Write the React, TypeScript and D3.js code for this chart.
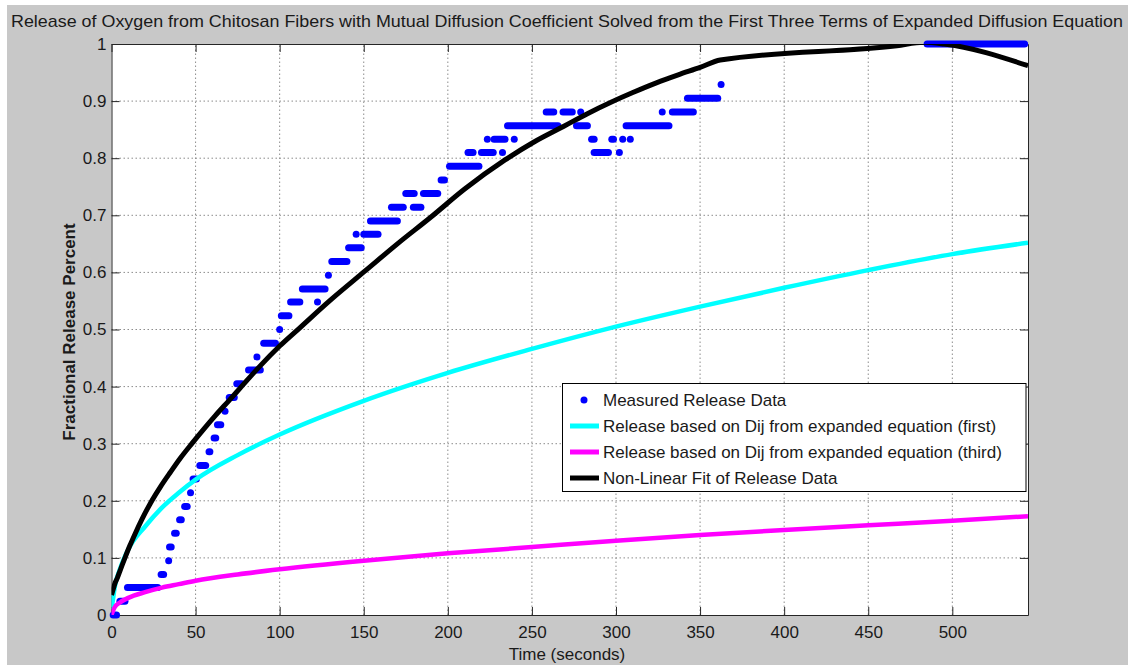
import React, { useEffect, useRef } from "react";
import * as d3 from "d3";

const WIDTH = 1128;
const HEIGHT = 665;

const chartTitle =
  "Release of Oxygen from Chitosan Fibers with Mutual Diffusion Coefficient Solved from the First Three Terms of Expanded Diffusion Equation";
const xLabel = "Time (seconds)";
const yLabel = "Fractional Release Percent";

const xTicks = [0, 50, 100, 150, 200, 250, 300, 350, 400, 450, 500];
const yTicks = [0, 0.1, 0.2, 0.3, 0.4, 0.5, 0.6, 0.7, 0.8, 0.9, 1];
const yTickLabels = ["0", "0.1", "0.2", "0.3", "0.4", "0.5", "0.6", "0.7", "0.8", "0.9", "1"];

const legendLabels = [
  "Measured Release Data",
  "Release based on Dij from expanded equation (first)",
  "Release based on Dij from expanded equation (third)",
  "Non-Linear Fit of Release Data",
];

// measured samples sit on a few levels, so they are kept as runs: [from s, to s, fraction]
const measuredRuns: [number, number, number][] = [
  [1, 3, 0], [5, 8, 0.024], [9.5, 27.5, 0.048], [29.5, 31, 0.071], [34, 34, 0.095],
  [34.5, 35.5, 0.119], [37.5, 38.5, 0.143], [40.5, 41.5, 0.167], [43.5, 45, 0.19],
  [47, 47, 0.214], [48.5, 50.5, 0.238], [52.5, 56, 0.262], [58, 58.5, 0.286],
  [61, 62, 0.31], [63, 65, 0.333], [67.5, 67.5, 0.357], [70, 73, 0.381],
  [74.5, 77.5, 0.405], [81.5, 88.5, 0.429], [86.5, 86.5, 0.452], [90.5, 97.5, 0.476],
  [100, 100, 0.5], [101, 105.5, 0.524], [106.5, 112, 0.548], [122.5, 122.5, 0.548],
  [113.5, 127, 0.571], [129, 129, 0.595], [131, 140, 0.619], [141, 148.5, 0.643],
  [145.5, 145.5, 0.667], [150, 158.5, 0.667], [154, 170, 0.69], [166.5, 173.5, 0.714],
  [179.5, 184, 0.714], [175, 180, 0.738], [185.5, 194, 0.738], [196, 198, 0.762],
  [201, 218.5, 0.786], [212, 215, 0.81], [220, 227, 0.81], [232.5, 232.5, 0.81],
  [223.5, 223.5, 0.833], [227.5, 234, 0.833], [239.5, 239.5, 0.833], [235.5, 265.5, 0.857],
  [258.5, 263, 0.881], [268.5, 274, 0.881], [279, 279, 0.881], [276.5, 283, 0.857],
  [285.5, 287, 0.833], [297.5, 298.5, 0.833], [304, 304, 0.833], [308.5, 308.5, 0.833],
  [287, 295.5, 0.81], [302, 302, 0.81], [306, 331.5, 0.857], [327.5, 327.5, 0.881],
  [333.5, 346, 0.881], [342.5, 360.5, 0.905], [362.5, 362.5, 0.929], [485, 543, 1],
];

const dijFirst: [number, number][] = [
  [0, 0.01], [1, 0.03], [2, 0.05], [5, 0.08], [10, 0.115], [20, 0.155], [30, 0.188],
  [40, 0.214], [50, 0.237], [75, 0.28], [100, 0.316], [150, 0.375], [200, 0.424],
  [250, 0.466], [300, 0.505], [350, 0.54], [400, 0.573], [450, 0.604], [500, 0.632],
  [545, 0.652],
];

const dijThird: [number, number][] = [
  [0, 0], [1, 0.008], [2, 0.014], [5, 0.022], [10, 0.03], [20, 0.04], [30, 0.048],
  [40, 0.054], [50, 0.06], [75, 0.071], [100, 0.08], [150, 0.095], [200, 0.108],
  [250, 0.119], [300, 0.13], [350, 0.14], [400, 0.149], [450, 0.157], [500, 0.165],
  [545, 0.173],
];

const nonLinearFit: [number, number][] = [
  [0, 0.035], [1, 0.045], [2, 0.055], [3.5, 0.065], [5, 0.077], [8, 0.1], [11, 0.122],
  [14, 0.142], [18, 0.167], [23, 0.195], [29, 0.224], [35, 0.25], [41, 0.275], [48, 0.301],
  [55, 0.326], [62, 0.35], [70, 0.376], [77, 0.399], [88, 0.435], [100, 0.471], [112, 0.503],
  [130, 0.551], [151, 0.603], [170, 0.65], [190, 0.697], [210, 0.746], [234, 0.797],
  [251, 0.828], [269, 0.856], [283, 0.878], [297, 0.898], [310, 0.915], [324, 0.932],
  [337, 0.946], [350, 0.959], [362, 0.972], [467, 0.997], [483, 1.003], [495, 1.0],
  [545, 0.962],
];

const FONT = "'Liberation Sans', Arial, sans-serif";

function App() {
  const svgRef = useRef<SVGSVGElement>(null);

  useEffect(() => {
    const svg = d3.select(svgRef.current);
    svg.selectAll("*").remove();

    const x = d3.scaleLinear().domain([0, 545]).range([111.5, 1028]);
    const y = d3.scaleLinear().domain([0, 1]).range([615, 44]);

    // figure background, and the white plot area
    svg.append("rect").attr("x", 7).attr("y", 5).attr("width", WIDTH).attr("height", HEIGHT).attr("fill", "#c8c8c8");
    svg
      .append("rect")
      .attr("x", x(0))
      .attr("y", y(1))
      .attr("width", x(545) - x(0))
      .attr("height", y(0) - y(1))
      .attr("fill", "#ffffff");

    svg
      .append("defs")
      .append("clipPath")
      .attr("id", "plot-clip")
      .append("rect")
      .attr("x", x(0))
      .attr("y", y(1))
      .attr("width", x(545) - x(0))
      .attr("height", y(0) - y(1));

    // dotted grid
    const grid = svg
      .append("g")
      .attr("stroke", "#8c8c8c")
      .attr("stroke-width", 1)
      .attr("stroke-dasharray", "1.5,2.5");
    grid
      .selectAll(".gx")
      .data(xTicks.slice(1))
      .join("line")
      .attr("class", "gx")
      .attr("x1", (d) => x(d))
      .attr("x2", (d) => x(d))
      .attr("y1", y(0))
      .attr("y2", y(1));
    grid
      .selectAll(".gy")
      .data(yTicks.slice(1, -1))
      .join("line")
      .attr("class", "gy")
      .attr("x1", x(0))
      .attr("x2", x(545))
      .attr("y1", (d) => y(d))
      .attr("y2", (d) => y(d));

    // axes with inward ticks on all four sides
    const styleAxis = (g: any) => {
      g.attr("font-family", FONT).attr("font-size", 17).attr("color", "#262626");
      g.selectAll("text").attr("fill", "#1a1a1a");
    };
    svg
      .append("g")
      .attr("transform", `translate(0,${y(0)})`)
      .call(d3.axisBottom(x).tickValues(xTicks).tickSize(-8).tickSizeOuter(0).tickPadding(11).tickFormat(d3.format("d")))
      .call(styleAxis);
    svg
      .append("g")
      .attr("transform", `translate(0,${y(1)})`)
      .call(d3.axisTop(x).tickValues(xTicks).tickSize(-8).tickSizeOuter(0).tickFormat(() => ""))
      .call(styleAxis);
    svg
      .append("g")
      .attr("transform", `translate(${x(0)},0)`)
      .call(
        d3
          .axisLeft(y)
          .tickValues(yTicks)
          .tickSize(-8)
          .tickSizeOuter(0)
          .tickPadding(5)
          .tickFormat((d, i) => yTickLabels[i])
      )
      .call(styleAxis);
    svg
      .append("g")
      .attr("transform", `translate(${x(545)},0)`)
      .call(d3.axisRight(y).tickValues(yTicks).tickSize(-8).tickSizeOuter(0).tickFormat(() => ""))
      .call(styleAxis);

    // measured release data
    svg
      .append("g")
      .selectAll("line")
      .data(measuredRuns)
      .join("line")
      .attr("x1", (d) => x(d[0]))
      .attr("x2", (d) => x(d[1]))
      .attr("y1", (d) => y(d[2]))
      .attr("y2", (d) => y(d[2]))
      .attr("stroke", "#0000ff")
      .attr("stroke-width", 7)
      .attr("stroke-linecap", "round");

    const lineGenerator = d3
      .line<[number, number]>()
      .x((d) => x(d[0]))
      .y((d) => y(d[1]))
      .curve(d3.curveMonotoneX);

    const curves: [[number, number][], string][] = [
      [dijFirst, "#00ffff"],
      [dijThird, "#ff00ff"],
      [nonLinearFit, "#000000"],
    ];
    svg
      .append("g")
      .attr("clip-path", "url(#plot-clip)")
      .selectAll("path")
      .data(curves)
      .join("path")
      .attr("d", (d) => lineGenerator(d[0]))
      .attr("fill", "none")
      .attr("stroke", (d) => d[1])
      .attr("stroke-width", (d) => (d[1] === "#000000" ? 5 : 4.5))
      .attr("stroke-linejoin", "round");

    // titles
    svg
      .append("text")
      .attr("x", 567)
      .attr("y", 27)
      .attr("text-anchor", "middle")
      .attr("font-family", FONT)
      .attr("font-size", 17)
      .attr("fill", "#1a1a1a")
      .attr("textLength", 1112)
      .attr("lengthAdjust", "spacingAndGlyphs")
      .text(chartTitle);
    svg
      .append("text")
      .attr("x", 567)
      .attr("y", 660)
      .attr("text-anchor", "middle")
      .attr("font-family", FONT)
      .attr("font-size", 17)
      .attr("fill", "#1a1a1a")
      .text(xLabel);
    svg
      .append("text")
      .attr("transform", "translate(75,332) rotate(-90)")
      .attr("text-anchor", "middle")
      .attr("font-family", FONT)
      .attr("font-size", 17)
      .attr("font-weight", "bold")
      .attr("fill", "#1a1a1a")
      .text(yLabel);

    // legend
    const legend = svg.append("g");
    legend
      .append("rect")
      .attr("x", 562.5)
      .attr("y", 383.5)
      .attr("width", 463.5)
      .attr("height", 108)
      .attr("fill", "#ffffff")
      .attr("stroke", "#000000");
    const rows = legend
      .selectAll(".row")
      .data(legendLabels)
      .join("g")
      .attr("class", "row")
      .attr("transform", (d, i) => `translate(0,${400 + i * 26})`);
    rows
      .filter((d, i) => i === 0)
      .append("circle")
      .attr("cx", 584)
      .attr("cy", 0)
      .attr("r", 3.5)
      .attr("fill", "#0000ff");
    rows
      .filter((d, i) => i > 0)
      .append("line")
      .attr("x1", 570)
      .attr("x2", 599)
      .attr("stroke", (d, i) => curves[i][1])
      .attr("stroke-width", 5);
    rows
      .append("text")
      .attr("x", 603)
      .attr("y", 6)
      .attr("font-family", FONT)
      .attr("font-size", 17)
      .attr("fill", "#1a1a1a")
      .text((d) => d);
  }, []);

  return (
    <div>
      <svg
        ref={svgRef}
        width={WIDTH}
        height={HEIGHT}
        style={{ position: "absolute", left: 0, top: 0, background: "#ffffff" }}
      />
    </div>
  );
}

export default App;
